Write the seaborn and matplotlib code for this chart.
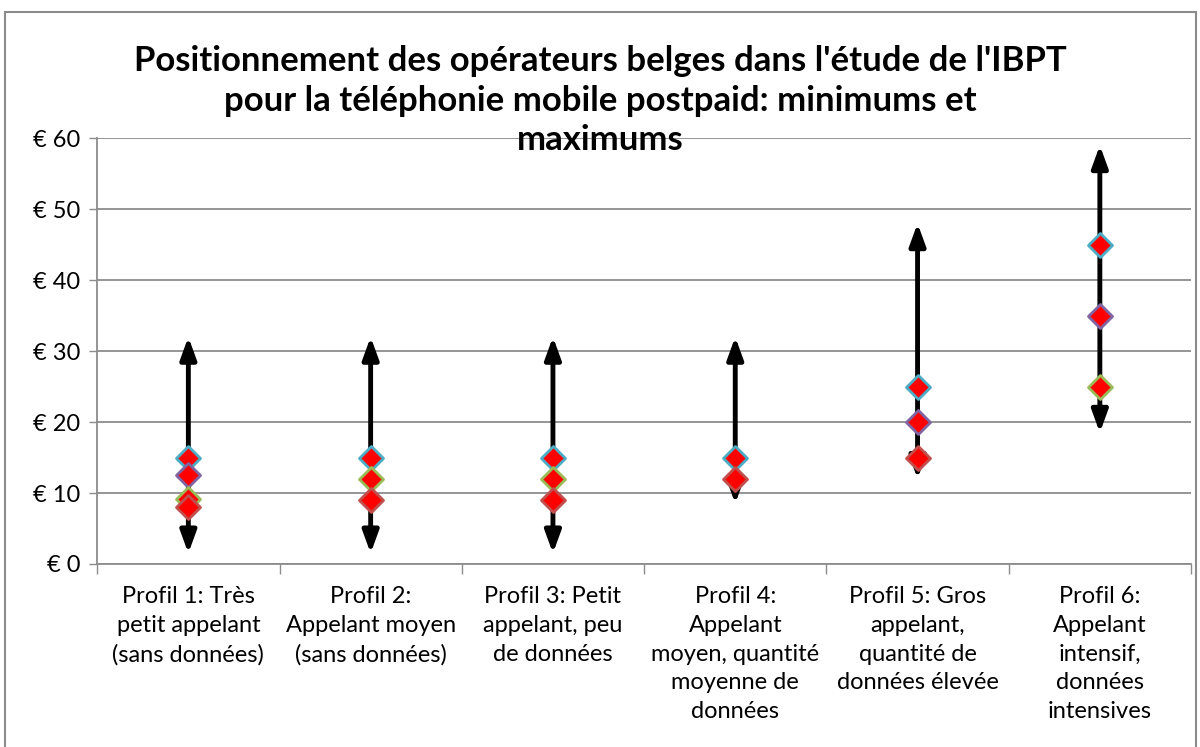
import matplotlib
matplotlib.use("Agg")
import matplotlib.pyplot as plt
import seaborn as sns
import numpy as np
import pandas as pd
from matplotlib.patches import Rectangle

profiles = [
    "Profil 1: Très\npetit appelant\n(sans données)",
    "Profil 2:\nAppelant moyen\n(sans données)",
    "Profil 3: Petit\nappelant, peu\nde données",
    "Profil 4:\nAppelant\nmoyen, quantité\nmoyenne de\ndonnées",
    "Profil 5: Gros\nappelant,\nquantité de\ndonnées élevée",
    "Profil 6:\nAppelant\nintensif,\ndonnées\nintensives",
]
range_min = [1.5, 1.5, 1.5, 8.5, 12, 18.5]
range_max = [32, 32, 32, 32, 48, 59]

op_a = [15, 15, 15, 15, 25, 45]          # teal edge
op_b = [12.5, np.nan, np.nan, np.nan, 20, 35]  # purple edge
op_c = [9.2, 12, 12, np.nan, np.nan, 25]   # green edge
op_d = [8, 9, 9, 12, 15, np.nan]          # brown edge
series_names = ["Opérateur A", "Opérateur B", "Opérateur C", "Opérateur D"]
edge_colors = ["#4BACC6", "#8064A2", "#9BBB59", "#C0504D"]

sns.set_theme(style="white")
plt.rcParams['font.family'] = ['Lato', 'DejaVu Sans']
plt.rcParams['text.color'] = 'black'
plt.rcParams['xtick.color'] = 'black'
plt.rcParams['ytick.color'] = 'black'

fig = plt.figure(figsize=(12, 7.47), dpi=100)
ax = fig.add_axes([0.081, 0.245, 0.9115, 0.57])

x = np.arange(len(profiles))

# min-max arrows
for xi, lo, hi in zip(x, range_min, range_max):
    ax.annotate("", xy=(xi, hi), xytext=(xi, lo),
                arrowprops=dict(arrowstyle="<|-|>,head_length=1.1,head_width=0.4",
                                color="black", lw=3.5, shrinkA=0, shrinkB=0),
                zorder=3)

df = pd.DataFrame({
    "x": np.tile(x, 4),
    "value": np.concatenate([op_a, op_b, op_c, op_d]),
    "series": np.repeat(series_names, len(x)),
})
for name, ec in zip(series_names, edge_colors):
    sub = df[df["series"] == name].dropna()
    sns.scatterplot(data=sub, x="x", y="value", ax=ax, marker="D", s=150,
                    color="#FF0000", edgecolor=ec, linewidth=2, zorder=4,
                    legend=False)

ax.set_xlim(-0.5, 5.5)
ax.set_ylim(0, 60)
ax.set_yticks(range(0, 61, 10))
ax.set_yticklabels([f"€ {v}" for v in range(0, 61, 10)], fontsize=17)
ax.yaxis.grid(True, color="#8C8C8C", lw=1.3)
ax.set_axisbelow(True)
ax.set_xticks(x)
ax.set_xticklabels(profiles, fontsize=17, linespacing=1.45, va="top")
ax.tick_params(axis="x", length=0, pad=16)
ax.set_xticks(np.arange(-0.5, 6, 1), minor=True)
ax.tick_params(axis="x", which="minor", length=7, color="#8C8C8C", width=1, direction="out", bottom=True)
ax.tick_params(axis="y", length=6, color="#8C8C8C", width=1, direction="out", left=True, pad=6)
ax.set_xlabel("")
ax.set_ylabel("")
for s in ["top", "right"]:
    ax.spines[s].set_visible(False)
for s in ["left", "bottom"]:
    ax.spines[s].set_color("#8C8C8C")
    ax.spines[s].set_linewidth(1.3)

fig.text(0.5, 0.94, "Positionnement des opérateurs belges dans l'étude de l'IBPT\n"
         "pour la téléphonie mobile postpaid: minimums et\nmaximums",
         ha="center", va="top", fontsize=25, fontweight="bold", linespacing=1.3)

fig.patches.append(Rectangle((0.004, -0.01), 0.993, 0.994, transform=fig.transFigure,
                             fill=False, edgecolor="#8C8C8C", lw=1.5))

fig.savefig("out.png", dpi=100)
